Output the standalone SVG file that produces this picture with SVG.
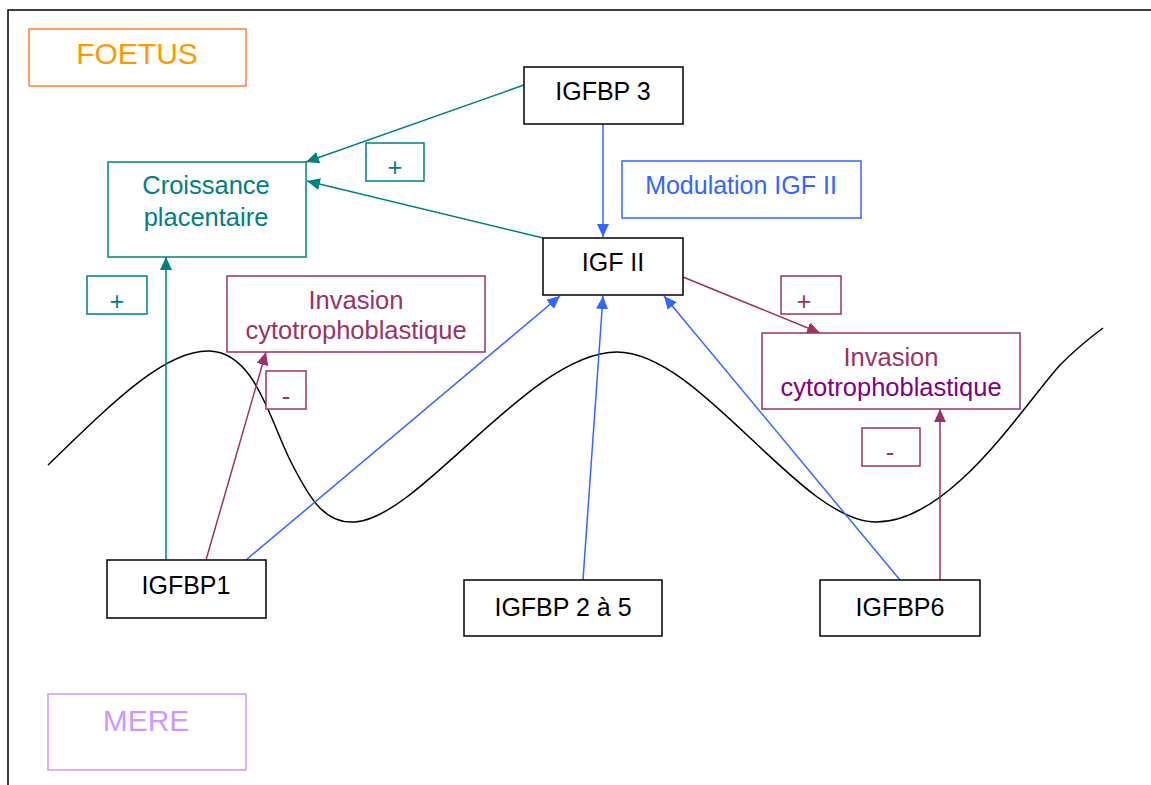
<svg xmlns="http://www.w3.org/2000/svg" width="1151" height="785" viewBox="0 0 1151 785">
<style>
text{font-family:"Liberation Sans",Arial,sans-serif;font-size:25px;text-anchor:middle}
.k rect{fill:#fff;stroke:#000;stroke-width:1.5}
.k text{fill:#000}
.t rect{fill:#fff;stroke:#008080;stroke-width:1.5}
.t text{fill:#008080;font-size:25.5px}
.p rect{fill:#fff;stroke:#993366;stroke-width:1.5}
.p text{fill:#993366;font-size:25.5px}
.p text.v{fill:#800080}
.b rect{fill:#fff;stroke:#3366FF;stroke-width:1.5}
.b text{fill:#3366FF}
.big{font-size:30px}
.ct{stroke:#008080;stroke-width:1.5;fill:none;marker-end:url(#at)}
.cb{stroke:#3366FF;stroke-width:1.5;fill:none;marker-end:url(#ab)}
.cp{stroke:#993366;stroke-width:1.5;fill:none;marker-end:url(#ap)}
</style>
<defs>
<marker id="at" markerUnits="userSpaceOnUse" markerWidth="14" markerHeight="12" refX="13" refY="6" orient="auto"><path d="M0,0 L13,6 L0,12 Z" fill="#008080"/></marker>
<marker id="ab" markerUnits="userSpaceOnUse" markerWidth="14" markerHeight="12" refX="13" refY="6" orient="auto"><path d="M0,0 L13,6 L0,12 Z" fill="#3366FF"/></marker>
<marker id="ap" markerUnits="userSpaceOnUse" markerWidth="14" markerHeight="12" refX="13" refY="6" orient="auto"><path d="M0,0 L13,6 L0,12 Z" fill="#993366"/></marker>
</defs>
<rect width="1151" height="785" fill="#fff"/>
<path d="M8,785 V10 H1151" fill="none" stroke="#000" stroke-width="1.5"/>
<path id="curve" d="M48,465 C110,405 165,349 210,351 C255,353 270,420 290,460 C310,500 325,524 355,522 C420,518 530,352 617,352 C700,352 800,522 876,522 C950,522 1020,410 1060,365 C1080,345 1103,328 1103,328" fill="none" stroke="#000" stroke-width="1.5"/>
<g id="connectors">
<line class="ct" x1="524" y1="85" x2="306" y2="162"/>
<line class="ct" x1="543" y1="238" x2="307" y2="181"/>
<line class="ct" x1="166" y1="560" x2="166" y2="257"/>
<line class="cp" x1="206" y1="560" x2="266" y2="352"/>
<line class="cb" x1="246" y1="560" x2="560" y2="296"/>
<line class="cb" x1="603" y1="124" x2="603" y2="237"/>
<line class="cb" x1="583" y1="580" x2="603" y2="296"/>
<line class="cb" x1="900" y1="580" x2="664" y2="296"/>
<line class="cp" x1="683" y1="277" x2="820" y2="333"/>
<line class="cp" x1="940" y1="580" x2="940" y2="409"/>
</g>
<g id="foetus"><rect x="29" y="29" width="217" height="57" fill="#fff" stroke="#FF8033" stroke-width="1.5"/><text class="big" x="137" y="64" fill="#FF9900">FOETUS</text></g>
<g id="mere"><rect x="48" y="694" width="198" height="76" fill="#fff" stroke="#CC99FF" stroke-width="1.5"/><text class="big" x="146" y="731" fill="#CC99FF">MERE</text></g>
<g id="croissance" class="t"><rect x="108" y="162" width="198" height="95"/><text x="206" y="194">Croissance</text><text x="206" y="226">placentaire</text></g>
<g id="plus1" class="t"><rect x="366" y="143" width="58" height="38"/><text x="395" y="176">+</text></g>
<g id="plus2" class="t"><rect x="87" y="276" width="60" height="38"/><text x="117" y="310">+</text></g>
<g id="igfbp3" class="k"><rect x="524" y="67" width="159" height="57"/><text x="603" y="100">IGFBP 3</text></g>
<g id="modulation" class="b"><rect x="622" y="161" width="239" height="57"/><text x="741" y="194">Modulation IGF II</text></g>
<g id="igf2" class="k"><rect x="543" y="238" width="140" height="57"/><text x="613" y="271">IGF II</text></g>
<g id="invasion1" class="p"><rect x="227" y="276" width="258" height="76"/><text x="356" y="309">Invasion</text><text x="356" y="339">cytotrophoblastique</text></g>
<g id="minus1" class="p"><rect x="266" y="371" width="40" height="38"/><text x="286" y="405">-</text></g>
<g id="plus3" class="p"><rect x="781" y="276" width="60" height="38"/><text x="804" y="310">+</text></g>
<g id="invasion2" class="p"><rect x="762" y="333" width="258" height="76"/><text x="891" y="366">Invasion</text><text class="v" x="891" y="396">cytotrophoblastique</text></g>
<g id="minus2" class="p"><rect x="862" y="428" width="58" height="38"/><text x="890" y="461">-</text></g>
<g id="igfbp1" class="k"><rect x="107" y="560" width="159" height="58"/><text x="186" y="594">IGFBP1</text></g>
<g id="igfbp25" class="k"><rect x="464" y="580" width="198" height="56"/><text x="563" y="616">IGFBP 2 à 5</text></g>
<g id="igfbp6" class="k"><rect x="820" y="580" width="160" height="56"/><text x="900" y="616">IGFBP6</text></g>
</svg>
